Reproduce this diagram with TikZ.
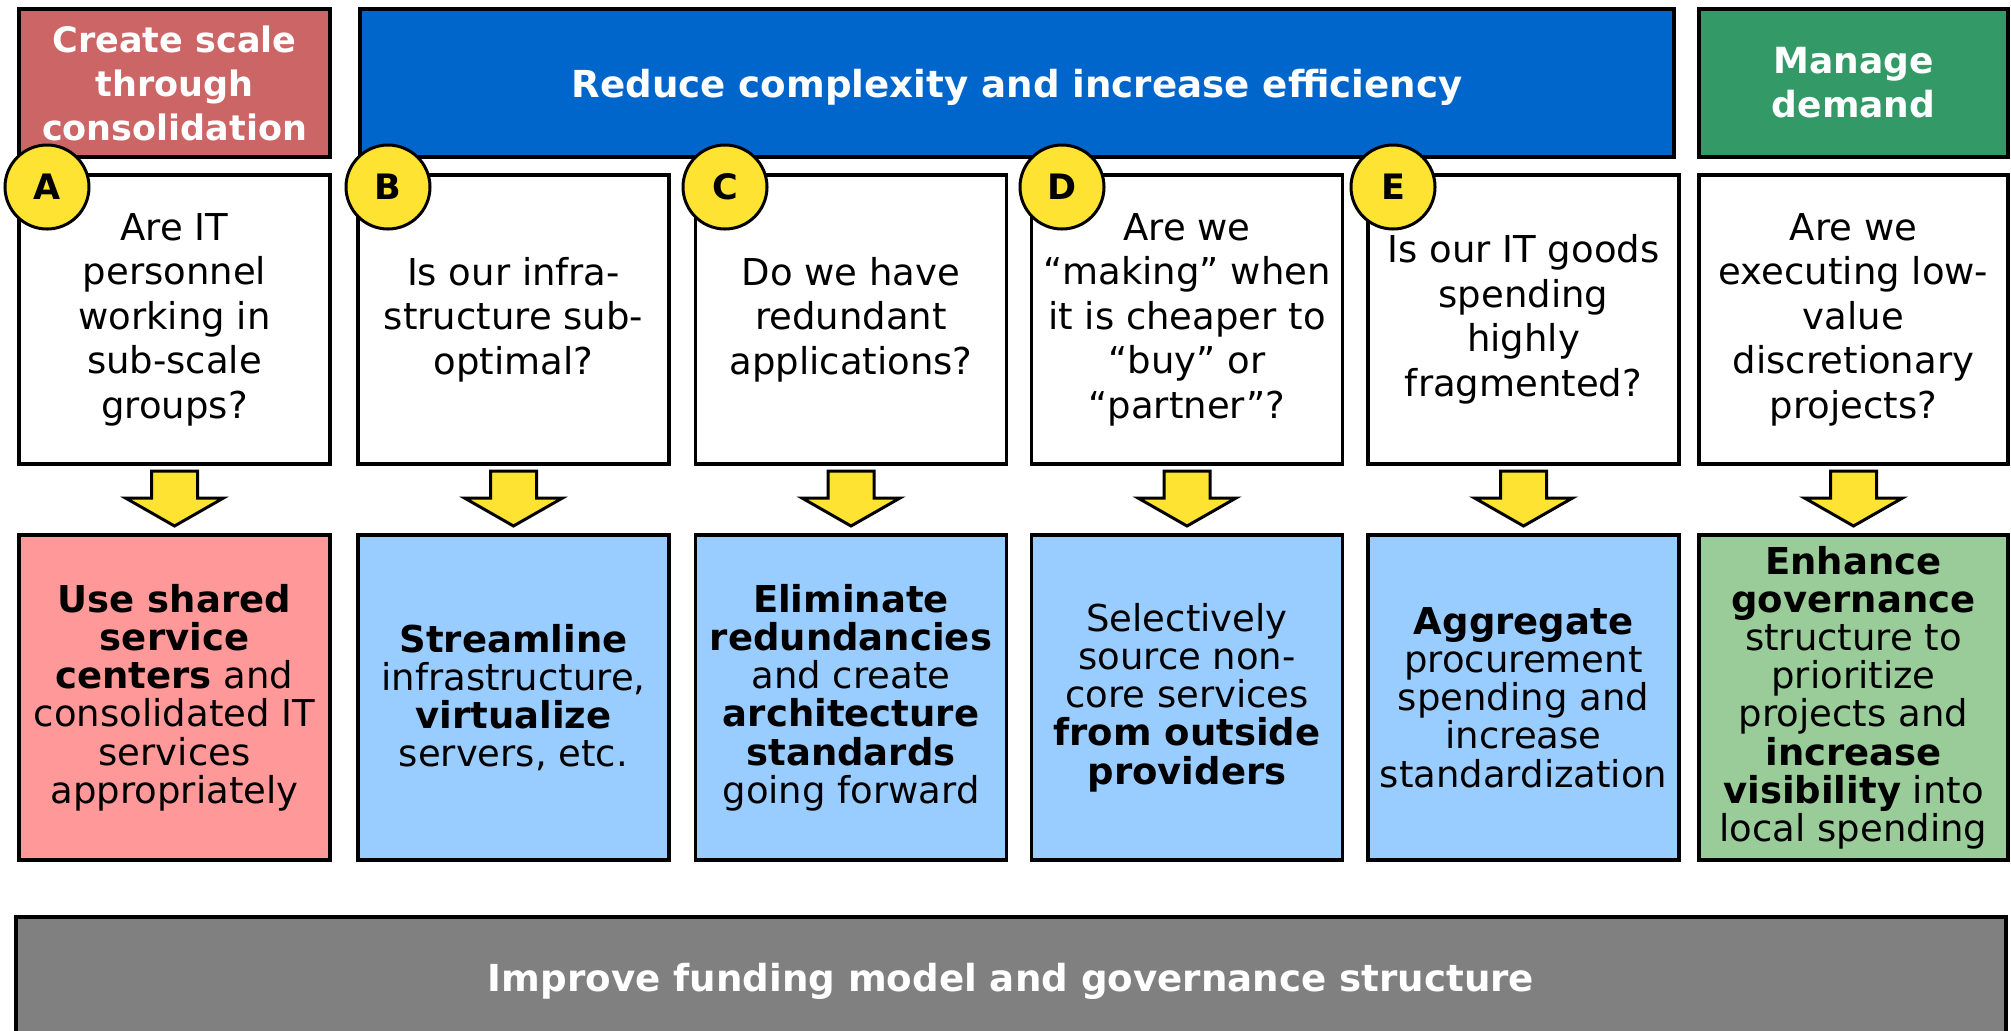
\documentclass[tikz,border=0pt]{standalone}
\usepackage{fontspec}
\setmainfont{DejaVu Sans}
\usetikzlibrary{calc}
\definecolor{hred}{HTML}{CC6666}
\definecolor{hblue}{HTML}{0066CC}
\definecolor{hgreen}{HTML}{339966}
\definecolor{apink}{HTML}{FF9999}
\definecolor{ablue}{HTML}{99CCFF}
\definecolor{agreen}{HTML}{99CC99}
\definecolor{ayellow}{HTML}{FFE333}
\definecolor{fgray}{HTML}{808080}
\begin{document}
\begin{tikzpicture}[x=0.5pt,y=-0.5pt,
 box/.style={draw=black,line width=1.8pt,outer sep=0pt,inner sep=0pt,align=center,minimum width=155.5pt},
 header/.style={box,minimum height=74pt,text=white,font=\bfseries\fontsize{17.5}{22}\selectfont},
 bigheader/.style={header,text depth=0pt,font=\bfseries\fontsize{18.6}{22}\selectfont},
 question/.style={box,fill=white,minimum height=144.5pt,font=\fontsize{18.5}{22.25}\selectfont},
 action/.style={box,minimum height=162.5pt,font=\fontsize{18.5}{19.1}\selectfont},
 badge/.style={circle,draw=black,line width=1.5pt,fill=ayellow,minimum size=42pt,inner sep=0pt,font=\bfseries\fontsize{17.5}{20}\selectfont},
 yarrow/.style={draw=black,line width=1.5pt,fill=ayellow,line join=miter}]
\path[use as bounding box] (0,0) rectangle (2011,1030);
\clip (0,0) rectangle (2011,1030);
% headers
\node[header,fill=hred] (hA) at (174.5,83) {Create scale\\through\\consolidation};
\node[bigheader,fill=hblue,minimum width=657pt] (hB) at (1017,83) {Reduce complexity and increase efficiency};
\node[header,fill=hgreen,minimum width=154.5pt,font=\bfseries\fontsize{18}{22}\selectfont] (hF) at (1853.5,83) {Manage\\demand};
% questions
\node[question] (qA) at (174.5,319.5) {Are IT\\personnel\\working in\\sub-scale\\groups?};
\node[question] (qB) at (513.5,319.5) {Is our infra-\\structure sub-\\optimal?};
\node[question] (qC) at (851,319.5) {Do we have\\redundant\\applications?};
\node[question] (qD) at (1187,319.5) {Are we\\“making” when\\it is cheaper to\\“buy” or\\“partner”?};
\node[question] (qE) at (1523.5,319.5) {Is our IT goods\\spending\\highly\\fragmented?};
\node[question,minimum width=154.5pt] (qF) at (1853.5,319.5) {Are we\\executing low-\\value\\discretionary\\projects?};
% actions
\node[action,fill=apink] (aA) at (174.5,697.5) {\textbf{Use shared}\\\textbf{service}\\\textbf{centers} and\\consolidated IT\\services\\appropriately};
\node[action,fill=ablue] (aB) at (513.5,697.5) {\textbf{Streamline}\\infrastructure,\\\textbf{virtualize}\\servers, etc.};
\node[action,fill=ablue] (aC) at (851,697.5) {\textbf{Eliminate}\\\textbf{redundancies}\\and create\\\textbf{architecture}\\\textbf{standards}\\going forward};
\node[action,fill=ablue] (aD) at (1187,697.5) {Selectively\\source non-\\core services\\\textbf{from outside}\\\textbf{providers}};
\node[action,fill=ablue] (aE) at (1523.5,697.5) {\textbf{Aggregate}\\procurement\\spending and\\increase\\standardization};
\node[action,fill=agreen,minimum width=154.5pt] (aF) at (1853.5,697.5) {\textbf{Enhance}\\\textbf{governance}\\structure to\\prioritize\\projects and\\\textbf{increase}\\\textbf{visibility} into\\local spending};
% bottom bar
\node[bigheader,fill=fgray,minimum width=995pt,minimum height=60pt] (g) at (1011,977) {Improve funding model and governance structure};
% arrows
\foreach \c in {A,B,C,D,E,F}
  \draw[yarrow] (q\c.south) ++(-23,7) -- ++(0,27) -- ++(-26,0) -- ++(49,28) -- ++(49,-28) -- ++(-26,0) -- ++(0,-27) -- cycle;
% badges
\node[badge] (bA) at (47,187) {A};
\node[badge] (bB) at (388,187) {B};
\node[badge] (bC) at (725,187) {C};
\node[badge] (bD) at (1062,187) {D};
\node[badge] (bE) at (1393,187) {E};
\end{tikzpicture}
\end{document}
